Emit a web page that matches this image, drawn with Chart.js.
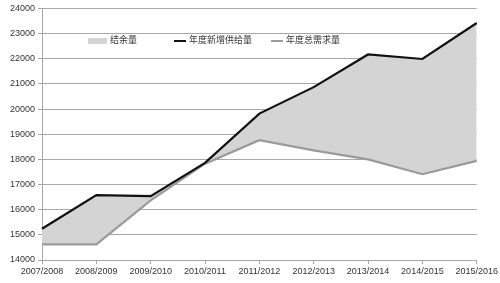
<!DOCTYPE html>
<html>
<head>
<meta charset="utf-8">
<script src="https://cdn.jsdelivr.net/npm/chart.js@4"></script>
<style>
  html, body { margin: 0; padding: 0; background: #fff; }
  #wrap { position: relative; width: 500px; height: 283px; }
  .legend { position: absolute; top: 34px; left: 0; font: 9px "Noto Sans CJK SC", sans-serif; color: #333; }
  .item { position: absolute; white-space: nowrap; line-height: 12px; }
  .swatch { display: inline-block; vertical-align: middle; margin-right: 3px; }
</style>
</head>
<body>
<div id="wrap">
  <canvas id="chart" width="500" height="283"></canvas>
  <div class="legend" id="legend"></div>
</div>
<script>
const seasons = ['2007/2008', '2008/2009', '2009/2010', '2010/2011', '2011/2012',
                 '2012/2013', '2013/2014', '2014/2015', '2015/2016'];
const supply = [15240, 16580, 16540, 17860, 19820, 20870, 22170, 21990, 23420];
const demand = [14620, 14620, 16370, 17830, 18760, 18360, 18000, 17410, 17940];
const yTicks = [14000, 15000, 16000, 17000, 18000, 19000, 20000, 21000, 22000, 23000, 24000];

const seriesNames = ['结余量', '年度新增供给量', '年度总需求量'];
const fillColor = '#d4d4d4';
const supplyColor = '#111111';
const demandColor = '#9a9a9a';
const gridColor = '#a8a8a8';
const tickFont = { family: '"Liberation Sans", Arial, sans-serif', size: 9 };

const ctx = document.getElementById('chart');
new Chart(ctx, {
    type: 'line',
    data: {
        labels: seasons,
        datasets: [{
            label: seriesNames[0],
            data: supply,
            fill: { target: 2 },
            backgroundColor: fillColor,
            borderWidth: 0,
            pointRadius: 0,
            order: 3,
        }, {
            label: seriesNames[1],
            data: supply,
            borderColor: supplyColor,
            borderWidth: 2.2,
            pointRadius: 0,
            fill: false,
            order: 1,
        }, {
            label: seriesNames[2],
            data: demand,
            borderColor: demandColor,
            borderWidth: 2.2,
            pointRadius: 0,
            fill: false,
            order: 2,
        }],
    },
    options: {
        responsive: false,
        animation: false,
        layout: { padding: { left: 0, right: 23, top: 8, bottom: 0 } },
        plugins: {
            legend: { display: false },
            tooltip: { enabled: false },
        },
        scales: {
            x: {
                offset: false,
                grid: { drawOnChartArea: false, tickLength: 4, color: gridColor },
                border: { color: gridColor },
                ticks: { color: '#333', font: tickFont, padding: 2, maxRotation: 0, autoSkip: false },
                afterFit: scale => { scale.height = 23; },
            },
            y: {
                min: yTicks[0],
                max: yTicks[yTicks.length - 1],
                afterBuildTicks: scale => { scale.ticks = yTicks.map(v => ({ value: v })); },
                grid: { tickLength: 4, color: gridColor },
                border: { color: gridColor },
                ticks: { color: '#333', font: tickFont, padding: 3, callback: v => String(v) },
                afterFit: scale => { scale.width = 42; },
            },
        },
    },
});

// legend sits inside the plot, left of centre, like the original
const legendItems = [
    { x: 88, swatch: 'width:19px;height:6px;background:' + fillColor },
    { x: 174, swatch: 'width:12px;height:2px;background:' + supplyColor },
    { x: 271, swatch: 'width:12px;height:2px;background:' + demandColor },
];
const legend = document.getElementById('legend');
legendItems.forEach((it, i) => {
    const el = document.createElement('div');
    el.className = 'item';
    el.style.left = it.x + 'px';
    el.innerHTML = '<span class="swatch" style="' + it.swatch + '"></span>' + seriesNames[i];
    legend.appendChild(el);
});
</script>
</body>
</html>
